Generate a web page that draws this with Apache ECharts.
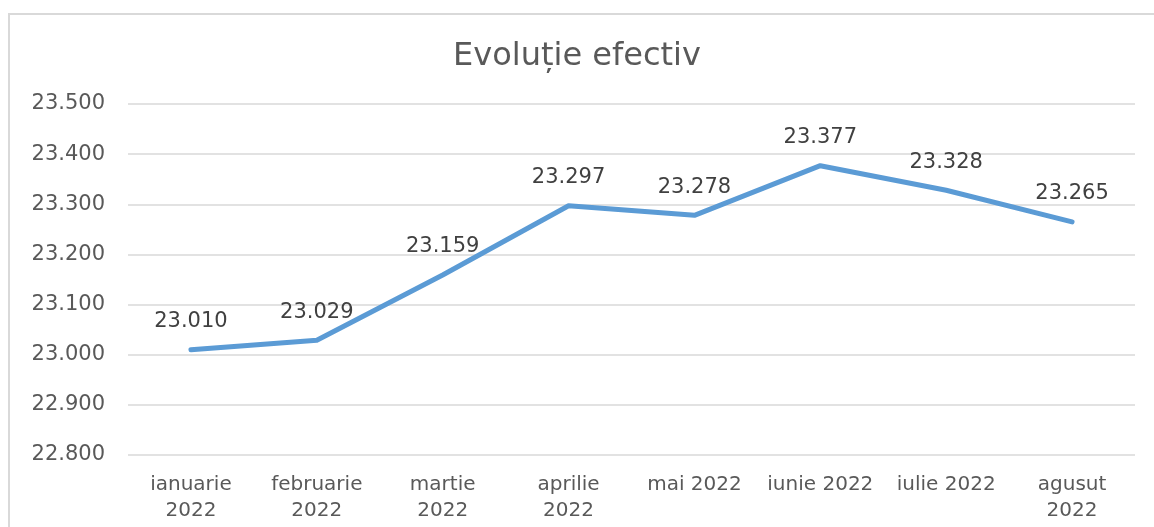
<!DOCTYPE html>
<html>
<head>
<meta charset="utf-8">
<title>Evoluție efectiv</title>
<script src="https://cdn.jsdelivr.net/npm/echarts@6/dist/echarts.min.js"></script>
<style>
  html, body { margin: 0; padding: 0; background: #fff; }
  #box { width: 1154px; height: 527px; }
</style>
</head>
<body>
<div id="box"></div>
<script>
// luni (etichete axa X)
var luni = ['ianuarie\n2022', 'februarie\n2022', 'martie\n2022', 'aprilie\n2022',
            'mai 2022', 'iunie 2022', 'iulie 2022', 'agusut\n2022'];
// efectiv lunar
var efectiv = [23010, 23029, 23159, 23297, 23278, 23377, 23328, 23265];
// axa Y
var yMin = 22800, yMax = 23500, yPas = 100;

// separator de mii cu punct
function fmt(v) {
  return String(v).replace(/\B(?=(\d{3})+(?!\d))/g, '.');
}

var font = 'DejaVu Sans';
var myChart = echarts.init(document.getElementById('box'));
var option = {
  animation: false,
  textStyle: { fontFamily: font },
  graphic: [{
    type: 'rect',
    shape: { x: 9, y: 14, width: 1200, height: 600 },
    style: { fill: 'none', stroke: '#d9d9d9', lineWidth: 2 }
  }],
  title: {
    text: 'Evoluție efectiv',
    left: 'center',
    top: 36,
    textStyle: { color: '#595959', fontSize: 32, fontWeight: 'normal', fontFamily: font }
  },
  grid: { left: 128, right: 19, top: 104, bottom: 72 },
  xAxis: {
    type: 'category',
    data: luni,
    boundaryGap: true,
    axisLine: { show: false },
    axisTick: { show: false },
    axisLabel: { color: '#595959', fontSize: 20, margin: 17, lineHeight: 26, interval: 0, fontFamily: font }
  },
  yAxis: {
    type: 'value',
    min: yMin,
    max: yMax,
    interval: yPas,
    axisLine: { show: false },
    axisTick: { show: false },
    splitLine: { lineStyle: { color: '#d9d9d9', width: 1.5 } },
    axisLabel: { color: '#595959', fontSize: 21, margin: 23, fontFamily: font, formatter: fmt }
  },
  series: [{
    name: 'Efectiv',
    type: 'line',
    data: efectiv,
    symbol: 'circle',
    symbolSize: 1,
    showSymbol: true,
    itemStyle: { color: '#5b9bd5' },
    lineStyle: { color: '#5b9bd5', width: 5, cap: 'round', join: 'round' },
    label: {
      show: true,
      position: 'top',
      distance: 17,
      color: '#404040',
      fontSize: 21,
      fontFamily: font,
      formatter: function (p) { return fmt(p.value); }
    }
  }]
};
myChart.setOption(option);
</script>
</body>
</html>
